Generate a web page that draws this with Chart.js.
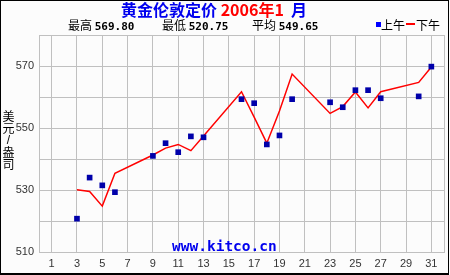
<!DOCTYPE html>
<html>
<head>
<meta charset="utf-8">
<script src="https://cdn.jsdelivr.net/npm/chart.js@4"></script>
<style>
  html, body { margin: 0; padding: 0; background: #fcfcfc; }
  #wrap { position: relative; width: 450px; height: 275px; overflow: hidden; font-family: "Noto Sans CJK SC", "Liberation Sans", sans-serif; }
  #frame { position: absolute; left: 0; top: 0; width: 449px; height: 275px; box-sizing: border-box;
           border: 1px solid #000; border-bottom-width: 2px; pointer-events: none; }
  canvas { position: absolute; left: 0; top: 0; }
  .t { position: absolute; white-space: nowrap; line-height: 1; }
  #title { left: 121px; top: 1px; font-size: 16px; font-weight: bold; color: #0000ee; }
  #title .r { color: #ff0000; }
  .stat { top: 19px; font-size: 12px; color: #000; }
  .stat b { font-family: "DejaVu Sans Mono", monospace; font-size: 11px; }
  #ytitle { left: 2px; top: 110px; width: 13px; font-size: 12px; text-align: center; color: #000; }
  #ytitle div { height: 12px; line-height: 12px; }
  #wm { left: 172px; top: 239px; font-family: "DejaVu Sans Mono", monospace; font-size: 14.5px; font-weight: bold; color: #0000ee; }
  #lg1 { left: 376px; top: 22px; width: 5px; height: 5px; background: #0000ff; position: absolute; }
  #lg2 { left: 406px; top: 23px; width: 9px; height: 2px; background: #ff0000; position: absolute; }
</style>
</head>
<body>
<div id="wrap">
  <canvas id="goldChart" width="450" height="275"></canvas>
  <div class="t" id="title">黄金伦敦定价 <span class="r">2006年1</span>&nbsp; 月</div>
  <div class="t stat" style="left:68px">最高 <b>569.80</b></div>
  <div class="t stat" style="left:162px">最低 <b>520.75</b></div>
  <div class="t stat" style="left:252px">平均 <b>549.65</b></div>
  <div id="lg1"></div><div class="t stat" style="left:381px">上午</div>
  <div id="lg2"></div><div class="t stat" style="left:416px">下午</div>
  <div class="t" id="ytitle"><div>美</div><div>元</div><div style="font-family:'Liberation Sans'">/</div><div>盎</div><div>司</div></div>
  <div class="t" id="wm">www.kitco.cn</div>
  <div id="frame"></div>
</div>
<script>
// ── Data (trading days of January 2006) ───────────────────────────────────────
const days    = [3, 4, 5, 6, 9, 10, 11, 12, 13, 16, 17, 18, 19, 20, 23, 24, 25, 26, 27, 30, 31];
const amFix   = [520.75, 534.0, 531.5, 529.3, 541.0, 545.1, 542.2, 547.3, 547.0, 559.3, 558.0,
                 544.7, 547.6, 559.3, 558.3, 556.7, 562.2, 562.2, 559.6, 560.2, 569.8];
const pmFix   = [530.1, 529.5, 524.8, 535.4, 541.3, 543.5, 544.7, 542.7, 547.4, 561.7, 553.5,
                 545.1, 555.5, 567.4, 554.7, 556.9, 561.6, 556.5, 561.7, 564.7, 569.7];
const xTicks  = [0, 1, 3, 5, 7, 9, 11, 13, 15, 17, 19, 21, 23, 25, 27, 29, 31, 32];
const yLabels = [510, 530, 550, 570];

const gridColor = "#c0c0c0";
const tickFont  = { family: "Liberation Sans", size: 11 };

// ── Chart ─────────────────────────────────────────────────────────────────────
const ctx = document.getElementById("goldChart").getContext("2d");
new Chart(ctx, {
    type: "line",
    data: {
        datasets: [{
            label: "下午",
            data: days.map((d, i) => ({ x: d, y: pmFix[i] })),
            borderColor: "#ff0000",
            borderWidth: 1.5,
            pointRadius: 0,
            tension: 0,
            fill: false,
            order: 2
        }, {
            label: "上午",
            data: days.map((d, i) => ({ x: d, y: amFix[i] })),
            showLine: false,
            pointStyle: "rect",
            pointRadius: 4,
            pointBorderWidth: 0,
            backgroundColor: "#0000aa",
            borderColor: "#0000aa",
            order: 1
        }]
    },
    options: {
        responsive: false,
        animation: false,
        layout: { padding: { left: 0, top: 35, right: 6, bottom: 0 } },
        plugins: { legend: { display: false }, tooltip: { enabled: false } },
        scales: {
            x: {
                type: "linear",
                min: 0, max: 32,
                afterBuildTicks: axis => { axis.ticks = xTicks.map(v => ({ value: v })); },
                afterFit: axis => { axis.height = 23; },
                ticks: {
                    autoSkip: false,
                    maxRotation: 0,
                    padding: 5,
                    color: "#333",
                    font: tickFont,
                    callback: v => (v === 0 || v === 32) ? "" : String(v)
                },
                grid: { color: gridColor, lineWidth: 1, drawTicks: false },
                border: { display: true, color: gridColor }
            },
            y: {
                min: 510, max: 580,
                afterFit: axis => { axis.width = 39; },
                ticks: {
                    stepSize: 10,
                    padding: 5,
                    color: "#333",
                    font: tickFont,
                    callback: v => yLabels.includes(v) ? String(v) : ""
                },
                grid: { color: gridColor, lineWidth: 1, drawTicks: false },
                border: { display: true, color: gridColor }
            }
        }
    }
});
</script>
</body>
</html>
